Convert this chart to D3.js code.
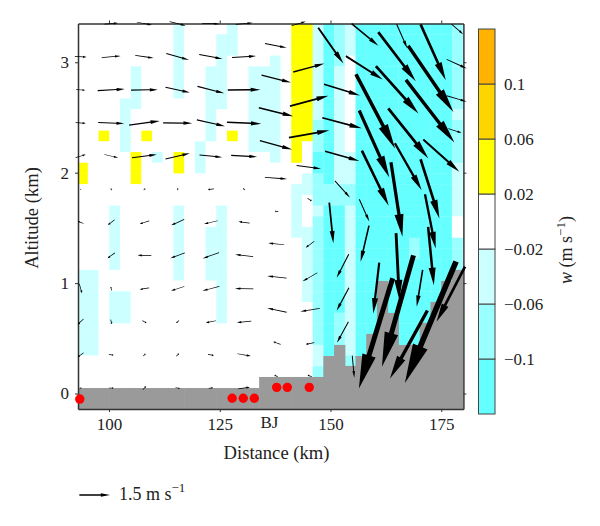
<!DOCTYPE html>
<html>
<head>
<meta charset="utf-8">
<script src="https://cdn.jsdelivr.net/npm/d3@7"></script>
<style>
body { margin: 0; background: #fff; }
text { font-family: "Liberation Serif", serif; fill: #222; }
</style>
</head>
<body>
<script>
//tick labels
var distTicks = [100, 125, 150, 175];
var altTicks = [0, 1, 2, 3];
var wBreaks = [-0.14, -0.1, -0.06, -0.02, 0.02, 0.06, 0.1, 0.14];
var wLabels = ["0.1", "0.06", "0.02", "\u22120.02", "\u22120.06", "\u22120.1"];
var wColors = ["#66ffff", "#99ffff", "#ccffff", "#ffffff", "#ffff00", "#ffd500", "#ffb300"];

//vertical velocity class of each grid cell, one string per altitude row from the top
var wClass = { ".": 0, l: -0.04, m: -0.08, d: -0.12, y: 0.04 };
var wRows = [
    ".........l....l..... yyldml ddddddddd m",
    ".........l...ll..... yyldml ddddddddd m",
    ".........l...ll..... yyldml ddddddddd m",
    ".........l...l....l. yyldm. ddddddddd m",
    ".....l...l..ll..lll. yyldl. ddddddddd m",
    ".....l...l..ll..lll. yyldl. ddddddddd m",
    ".....l...l..ll..lll. yyldl. ddddddddd m",
    "....ll......ll..lll. yyldl. ddddddddd m",
    "....l.......l...lll. yyldl. ddddddddd l",
    "....l.......l...lll. yymdl. ddddddddd m",
    "..y.l.y.....l.y.lll. yymdl. ddddddddd m",
    "....l......l....lll. y.mdl. ddddddddd m",
    ".....y.l.y.l......l. y.ddll ddddddddd m",
    "y....y...y.l........ ..ddll ddddddddd l",
    "y....y.............. .lmdll ddddddddd l",
    ".................... llmmmm ddddddddd l",
    ".................... l.mmmm ddddddddd l",
    "...l.....l...l...... l.lddl ddddddddd l",
    "...l.....l...l...... l.mddl ddddddddd .",
    "...l.....l..ll...... llmddl ddddddddd .",
    "...l.....l..ll...... .lmddl dddddmddd m",
    "...l.....l..ll...... .lmddl dddddmddd m",
    "...l.....l..ll...... .lmddl ddddddddd m",
    "ll.......l..ll...... .lmddl ddddddddd m",
    "ll...........l...... .lmddl ddddddddd m",
    "ll.ll........l...... .lmddl ddddddddd m",
    "ll.ll........l...... ..mddl ddddddddd m",
    "ll.ll........l...... ..mdml ddddddddd m",
    "ll.................. ..mdml ddddddddd m",
    "ll.................. ..mdml ddddddddd m",
    "ll.................. ..lddl ddddddddd m",
    ".................... ..lddm ddddddddd m",
    ".................... ..mddl ddddddddd m",
    ".................... ..mddl ddddddddd m",
    ".................... ..mddl ddddddddd m",
    ".................... ..mddl ddddddddd m"
];

//ground height under each grid column (km)
var terrain = [
    0.05, 0.05, 0.05, 0.05, 0.05, 0.05, 0.05, 0.05, 0.05, 0.05, 0.05, 0.05,
    0.05, 0.05, 0.05, 0.05, 0.05, 0.15, 0.15, 0.15, 0.15, 0.15, 0.15, 0.34,
    0.44, 0.25, 0.34, 0.54, 1.02, 0.73, 0.44, 0.44, 0.64, 0.83, 1.02, 1.12
];

//stations along the ground
var stationDist = [93.4, 127.8, 130.3, 132.8, 137.85, 140.25, 145.2];
var stationAlt = [-0.05, -0.043, -0.043, -0.043, 0.056, 0.056, 0.056];

//wind on the regular part of the section, rows by altitude, columns by distance
var windDist = [93.6, 100.5, 108, 115.5, 123, 130.5];
var windAlt = [3.35, 3.05, 2.75, 2.45, 2.15, 1.85, 1.55, 1.25, 0.95, 0.65, 0.35, 0.05];
var windU = [
    [0, 0.65, 0.74, 0.78, 0.85, 0.82],
    [0.57, 0.93, 0.90, 1.11, 1.14, 1.18],
    [0.44, 1.32, 1.31, 1.19, 1.31, 1.60],
    [0.49, 1.27, 1.50, 1.42, 1.37, 1.68],
    [0.49, 0.67, 1.21, 1.19, 1.11, 1.27],
    [0.05, 0.03, 0.07, 0.03, -0.29, -0.10],
    [-0.28, -0.33, -0.46, -0.64, -0.67, -0.54],
    [0, -0.36, -0.67, -0.70, -0.80, -0.88],
    [0.13, -0.05, -0.46, -0.65, -0.83, -0.90],
    [-0.28, 0.05, 0.20, -0.13, -0.49, -0.70],
    [-0.29, 0.23, 0.11, 0.13, 0.28, 0.65],
    [-0.08, 0.23, 0.16, 0.21, 0.20, 0.57]
];
var windV = [
    [0, 0.05, -0.13, -0.20, -0.03, 0.08],
    [-0.03, 0.08, -0.13, -0.31, -0.21, 0.07],
    [-0.03, 0.08, 0.02, -0.26, -0.34, 0.02],
    [-0.03, -0.05, 0.20, -0.02, -0.31, -0.08],
    [0.15, -0.16, 0.16, 0.29, -0.10, -0.07],
    [0, -0.10, 0.08, 0.10, -0.03, 0.07],
    [0.11, -0.26, -0.15, -0.29, -0.16, 0.08],
    [0, -0.26, 0.02, -0.26, -0.29, 0.11],
    [-0.46, 0.16, -0.08, -0.21, -0.21, 0.02],
    [-0.26, -0.21, -0.11, -0.13, -0.10, -0.07],
    [-0.21, -0.02, 0.11, 0.13, -0.05, -0.11],
    [-0.03, 0, 0.18, -0.05, 0.03, 0.08]
];

//wind over the high ground, read one arrow at a time
var gustDist = [
    137.65, 137.76, 137.7, 137.7, 137.7, 137.85, 137.76, 137.9, 137.9, 137.9, 137.7,
    142.82, 145.1, 145.19, 145.19, 145.1, 145.3, 145.37, 145.37, 145.37, 145.37, 145.3,
    150.07, 157.79, 157.63, 152.6, 152.6, 152.64, 152.7, 150.18, 152.75, 152.77, 152.75, 155.14,
    165.01, 166.14, 172.64, 173.18, 178.62, 178.49, 165.05, 160.16, 172.5, 178.49,
    167.56, 159.88, 178.1, 175.01, 167.56, 160.11, 172.46, 164.94, 157.63, 157.74,
    172.53, 165.17, 172.68, 160.33, 170.13, 165.17, 160.22, 172.57, 167.65, 177.15
];
var gustAlt = [
    3.15, 2.85, 2.55, 2.25, 1.95, 1.65, 1.355, 1.055, 0.755, 0.457, 0.16,
    3.35, 2.95, 2.65, 2.35, 2.05, 1.755, 1.35, 1.055, 0.757, 0.453, 0.16,
    3.15, 3.25, 2.95, 2.75, 2.45, 2.15, 1.85, 1.545, 1.155, 0.854, 0.555, 0.243,
    3.05, 3.235, 2.85, 3.09, 3.3, 2.985, 2.75, 2.555, 2.557, 2.67,
    2.356, 2.26, 2.38, 2.155, 2.054, 1.95, 1.854, 1.757, 1.658, 1.357,
    1.56, 1.15, 1.245, 0.955, 0.953, 0.747, 0.545, 0.646, 0.444, 0.9
];
var gustU = [
    1.06, 1.44, 1.68, 1.58, 1.09, -0.16, -0.78, -0.95, -0.95, -0.36, -0.16,
    0.69, 1.52, 1.88, 1.98, 1.19, 0.20, -0.42, -0.72, -0.95, -0.42, -0.20,
    1.23, 1.31, 1.80, 1.76, 1.93, 1.68, 0.74, 0.20, -0.59, -0.60, -0.56, 0.10,
    1.83, 0.52, 2.21, 1.23, 0.57, 0.98, 2.08, 1.91, 2.37, 0.98,
    1.96, 1.47, 0.65, 1.76, 1.31, 1.31, 0.92, 0.56, 0.49, -0.41,
    0.52, 0.16, 0.28, -0.29, -0.29, -1.54, -1.65, -2.50, -1.83, -1.39
];
var gustV = [
    -0.21, -0.36, -0.42, -0.44, -0.08, 0, 0.08, 0.11, 0.20, 0.13, 0.07,
    0.20, 0.41, 0.51, 0.36, -0.16, -0.13, -0.31, -0.42, -0.16, -0.08, 0.07,
    -1.75, -1.08, -1.14, -0.54, -0.51, -0.47, -0.82, -1.99, -1.14, -1.13, -1.03, -1.08,
    -2.40, -1.18, -3.24, -2.73, -0.49, -0.44, -2.32, -3.63, -3.06, -0.29,
    -2.45, -3.27, -0.21, -1.58, -2.29, -2.70, -2.89, -3.64, -1.09, -1.76,
    -2.65, -3.27, -2.86, -2.48, -1.80, -5.44, -5.39, -5.93, -3.32, -2.70
];

//begin script when window loads
window.onload = drawChart();

function drawChart() {

    var width = 600,
        height = 526;

    var svg = d3.select("body")
        .append("svg")
        .attr("width", width)
        .attr("height", height);

    var x = d3.scaleLinear().domain([93, 180]).range([78, 463.4]);
    var y = d3.scaleLinear().domain([-0.14, 3.351]).range([409, 23.5]);

    //size of a 1 m/s wind in pixels
    var speed = d3.scaleLinear().domain([0, 1.5]).range([0, 30.7]);

    var wColor = d3.scaleThreshold()
        .domain(wBreaks.slice(1, -1))
        .range(wColors);

    //grid geometry: 36 columns by 36 rows
    var cellW = 2.417,
        cellH = 0.0970,
        gridLeft = 92.8,
        gridTop = 3.351;

    svg.append("clipPath")
        .attr("id", "frame")
        .append("rect")
        .attr("x", x(93))
        .attr("y", y(3.351))
        .attr("width", x(180) - x(93))
        .attr("height", y(-0.14) - y(3.351));

    var plot = svg.append("g").attr("clip-path", "url(#frame)");

    //shaded w cells
    wRows.forEach(function(row, j) {
        var cells = row.replace(/ /g, "").split("");
        plot.append("g").selectAll("rect")
            .data(cells)
            .enter()
            .append("rect")
            .attr("x", function(d, c) { return x(gridLeft + c * cellW); })
            .attr("y", y(gridTop - j * cellH))
            .attr("width", x(cellW) - x(0) + 0.3)
            .attr("height", y(0) - y(cellH) + 0.3)
            .attr("fill", function(d) { return wColor(wClass[d]); });
    });

    //ground
    plot.append("g").selectAll("rect")
        .data(terrain)
        .enter()
        .append("rect")
        .attr("x", function(d, c) { return x(gridLeft + c * cellW); })
        .attr("y", function(d) { return y(d); })
        .attr("width", x(cellW) - x(0) + 0.6)
        .attr("height", function(d) { return y(-0.14) - y(d); })
        .attr("fill", "#9a9a9a");

    //axes on all four sides
    var axes = [
        { g: d3.axisBottom(x).tickValues(distTicks), at: [0, y(-0.14)] },
        { g: d3.axisTop(x).tickValues(distTicks).tickFormat(""), at: [0, y(3.351)] },
        { g: d3.axisLeft(y).tickValues(altTicks).tickFormat(d3.format("d")), at: [x(93), 0] },
        { g: d3.axisRight(y).tickValues(altTicks).tickFormat(""), at: [x(180), 0] }
    ];
    axes.forEach(function(a) {
        var g = svg.append("g")
            .attr("transform", "translate(" + a.at[0] + "," + a.at[1] + ")")
            .call(a.g.tickSize(3).tickPadding(6).tickSizeOuter(0));
        g.select(".domain").attr("stroke", "#333").attr("stroke-width", 1.5);
        g.selectAll(".tick line").attr("stroke", "#333").attr("stroke-width", 1);
        g.selectAll("text").style("font-family", "Liberation Serif").style("font-size", "17px").attr("fill", "#222");
    });

    //stations
    svg.append("g").selectAll("circle")
        .data(stationDist)
        .enter()
        .append("circle")
        .attr("cx", function(d) { return x(d); })
        .attr("cy", function(d, i) { return y(stationAlt[i]); })
        .attr("r", 4.7)
        .attr("fill", "#ff0000");

    //wind arrows
    var arrows = svg.append("g").attr("fill", "#000");
    windAlt.forEach(function(alt, r) {
        windDist.forEach(function(dist, c) {
            if (windU[r][c] !== 0 || windV[r][c] !== 0) {
                arrows.append("path").attr("d", arrowPath(x(dist), y(alt), speed(windU[r][c]), -speed(windV[r][c])));
            }
        });
    });
    gustDist.forEach(function(dist, i) {
        arrows.append("path").attr("d", arrowPath(x(dist), y(gustAlt[i]), speed(gustU[i]), -speed(gustV[i])));
    });

    //arrow centred on cx,cy, thickness grows with its length
    function arrowPath(cx, cy, dx, dy) {
        var len = Math.sqrt(dx * dx + dy * dy);
        var ux = dx / len, uy = dy / len;
        var shaft = Math.max(0.043 * len, 0.7) / 2,
            head = 0.3 * len,
            wing = Math.max(0.06 * len, 1.1);
        var bx = cx + ux * (len / 2 - head),
            by = cy + uy * (len / 2 - head);
        var pts = [
            [cx - ux * len / 2 - uy * shaft, cy - uy * len / 2 + ux * shaft],
            [bx - uy * shaft, by + ux * shaft],
            [bx - uy * wing, by + ux * wing],
            [cx + ux * len / 2, cy + uy * len / 2],
            [bx + uy * wing, by - ux * wing],
            [bx + uy * shaft, by - ux * shaft],
            [cx - ux * len / 2 + uy * shaft, cy - uy * len / 2 - ux * shaft]
        ];
        return "M" + pts.join("L") + "Z";
    }

    //axis titles
    svg.append("text")
        .attr("x", x(136.2))
        .attr("y", 428)
        .attr("text-anchor", "middle")
        .style("font-size", "17px")
        .text("BJ");

    svg.append("text")
        .attr("x", 276.5)
        .attr("y", 459)
        .attr("text-anchor", "middle")
        .style("font-size", "18.6px")
        .text("Distance (km)");

    svg.append("text")
        .attr("transform", "translate(38,218) rotate(-90)")
        .attr("text-anchor", "middle")
        .style("font-size", "18.6px")
        .text("Altitude (km)");

    //reference arrow
    svg.append("path")
        .attr("d", arrowPath(94.7, 495, speed(1.5), 0))
        .attr("fill", "#000");

    var refLabel = svg.append("text")
        .attr("x", 119)
        .attr("y", 499.5)
        .style("font-size", "18px");
    refLabel.append("tspan").text("1.5 m s");
    refLabel.append("tspan").attr("dy", -8).style("font-size", "13px").text("\u22121");

    //colour bar
    var bar = d3.scaleLinear().domain([-0.14, 0.14]).range([414, 29]);

    svg.append("g").selectAll("rect")
        .data(wColors)
        .enter()
        .append("rect")
        .attr("x", 478.5)
        .attr("width", 16.5)
        .attr("y", function(d, i) { return bar(wBreaks[i + 1]); })
        .attr("height", function(d, i) { return bar(wBreaks[i]) - bar(wBreaks[i + 1]); })
        .attr("fill", function(d) { return d; })
        .attr("stroke", "#444")
        .attr("stroke-width", 1);

    svg.append("g").selectAll("text")
        .data(wLabels)
        .enter()
        .append("text")
        .attr("x", 504)
        .attr("y", function(d, i) { return bar(wBreaks[wBreaks.length - 2 - i]); })
        .attr("dy", "0.36em")
        .style("font-size", "17px")
        .text(function(d) { return d; });

    var barTitle = svg.append("text")
        .attr("transform", "translate(572,250) rotate(-90)")
        .attr("text-anchor", "middle")
        .style("font-size", "18px");
    barTitle.append("tspan").style("font-style", "italic").text("w");
    barTitle.append("tspan").text(" (m s");
    barTitle.append("tspan").attr("dy", -7).style("font-size", "13px").text("\u22121");
    barTitle.append("tspan").attr("dy", 7).text(")");
}
</script>
</body>
</html>
